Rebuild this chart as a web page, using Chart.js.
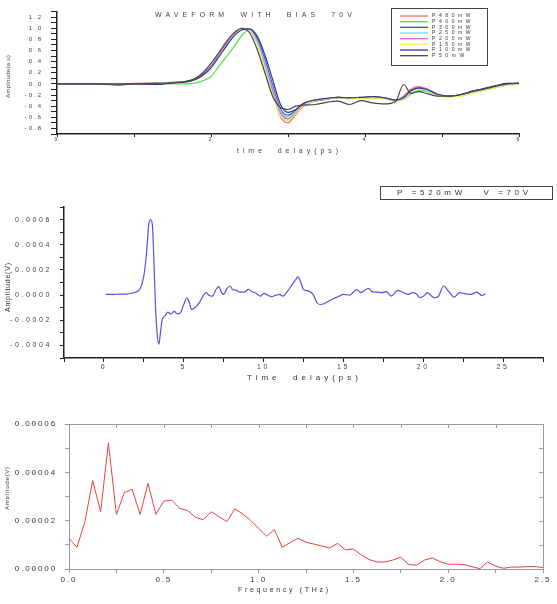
<!DOCTYPE html>
<html lang="en">
<head>
<meta charset="UTF-8" />
<title>Waveform with bias 70V</title>
<script src="https://cdn.jsdelivr.net/npm/chart.js"></script>
<style>
  * { box-sizing: border-box; margin: 0; padding: 0; }
  body { width: 557px; height: 604px; background: #fff; position: relative; overflow: hidden; }
  canvas { position: absolute; left: 0; }
  #waveChart { top: 0; }
  #pulseChart { top: 175px; }
  #specChart { top: 410px; }
</style>
</head>
<body>
  <canvas id="waveChart" width="557" height="160"></canvas>
  <canvas id="pulseChart" width="557" height="210"></canvas>
  <canvas id="specChart" width="557" height="194"></canvas>

<script>
const FONT = '"Liberation Sans", Arial, sans-serif';

// ---- top chart: normalised waveforms, one per pump power
const powers = ['P480mW', 'P400mW', 'P300mW', 'P250mW', 'P200mW', 'P150mW', 'P100mW', 'P50mW'];
const powerColors = ['#f26a6a', '#4ee04e', '#4646e2', '#5ee6ee', '#e45ee4', '#f0f05a', '#38389a', '#484848'];
const waveTime = [0, 0.5, 0.8, 1.0, 1.3, 1.5, 1.65, 1.8, 1.9, 2.0,
  2.1, 2.2, 2.3, 2.4, 2.5, 2.6, 2.7, 2.8, 2.9, 3.0,
  3.1, 3.2, 3.35, 3.5, 3.65, 3.8, 3.95, 4.1, 4.25, 4.4,
  4.5, 4.6, 4.7, 4.8, 4.95, 5.1, 5.25, 5.4, 5.55, 5.7,
  5.85, 6.0, 6.05];
const wave480 = [0, 0, 0, 0.01, 0.02, 0.03, 0.04, 0.08, 0.16, 0.30,
  0.50, 0.71, 0.89, 0.99, 0.96, 0.72, 0.30, -0.16, -0.58, -0.70,
  -0.55, -0.40, -0.31, -0.28, -0.24, -0.26, -0.25, -0.23, -0.25, -0.29,
  -0.22, -0.09, -0.05, -0.09, -0.19, -0.22, -0.19, -0.14, -0.10, -0.05,
  0.0, 0.01, -0.04];
const wave400 = [0, 0, 0, 0, 0, 0, 0, 0.02, 0.06, 0.13,
  0.31, 0.49, 0.67, 0.87, 0.97, 0.78, 0.38, -0.10, -0.50, -0.62,
  -0.52, -0.38, -0.31, -0.27, -0.24, -0.26, -0.25, -0.25, -0.26, -0.31,
  -0.28, -0.18, -0.12, -0.13, -0.20, -0.22, -0.20, -0.15, -0.11, -0.06,
  -0.02, 0.0, -0.04];
const wave300 = [0, 0, 0, 0, 0.01, 0.02, 0.03, 0.09, 0.18, 0.32,
  0.52, 0.72, 0.88, 0.98, 0.98, 0.82, 0.45, -0.02, -0.44, -0.56,
  -0.48, -0.36, -0.29, -0.27, -0.24, -0.25, -0.24, -0.24, -0.26, -0.29,
  -0.25, -0.13, -0.08, -0.10, -0.19, -0.22, -0.19, -0.13, -0.09, -0.04,
  0.0, 0.01, -0.03];
const wave250 = [0, 0, 0, 0, 0.01, 0.02, 0.03, 0.08, 0.16, 0.30,
  0.50, 0.70, 0.88, 0.98, 0.97, 0.77, 0.38, -0.08, -0.48, -0.59,
  -0.50, -0.37, -0.30, -0.27, -0.25, -0.26, -0.25, -0.24, -0.26, -0.30,
  -0.27, -0.16, -0.10, -0.12, -0.20, -0.22, -0.20, -0.14, -0.10, -0.05,
  -0.01, 0.0, -0.04];
const wave200 = [0, 0, 0, 0, 0.01, 0.02, 0.04, 0.09, 0.17, 0.31,
  0.51, 0.71, 0.89, 0.99, 0.96, 0.74, 0.33, -0.12, -0.52, -0.63,
  -0.52, -0.38, -0.30, -0.27, -0.24, -0.26, -0.25, -0.23, -0.25, -0.29,
  -0.24, -0.11, -0.06, -0.09, -0.19, -0.22, -0.19, -0.13, -0.09, -0.04,
  0.01, 0.01, -0.03];
const wave150 = [0, 0, 0, 0, 0.01, 0.02, 0.03, 0.08, 0.15, 0.29,
  0.49, 0.69, 0.87, 0.98, 0.96, 0.72, 0.29, -0.18, -0.56, -0.66,
  -0.53, -0.39, -0.30, -0.27, -0.25, -0.27, -0.26, -0.25, -0.27, -0.31,
  -0.27, -0.14, -0.09, -0.11, -0.21, -0.24, -0.22, -0.17, -0.12, -0.07,
  -0.02, -0.01, -0.05];
const wave100 = [0, 0, 0, 0, -0.01, 0.02, 0.03, 0.08, 0.16, 0.29,
  0.48, 0.68, 0.86, 0.97, 0.99, 0.86, 0.52, 0.08, -0.36, -0.51,
  -0.46, -0.35, -0.29, -0.26, -0.24, -0.25, -0.24, -0.23, -0.25, -0.29,
  -0.25, -0.12, -0.07, -0.10, -0.19, -0.22, -0.19, -0.13, -0.08, -0.03,
  0.01, 0.01, -0.04];
const wave50 = [0, 0, -0.02, 0, 0.01, 0.02, 0.04, 0.10, 0.21, 0.37,
  0.56, 0.76, 0.92, 1.0, 0.92, 0.62, 0.20, -0.22, -0.42, -0.46,
  -0.40, -0.38, -0.37, -0.33, -0.31, -0.37, -0.30, -0.34, -0.36, -0.31,
  -0.01, -0.17, -0.14, -0.17, -0.22, -0.22, -0.19, -0.13, -0.09, -0.04,
  0.0, 0.01, -0.04];
const waveSeries = [wave480, wave400, wave300, wave250, wave200, wave150, wave100, wave50];

// ---- middle chart: raw pulse, P=520mW V=70V (amplitude in units of 1e-4 V)
const pulseTime = [0.1, 0.5, 1.0, 1.5, 2.0, 2.3, 2.5, 2.67, 2.8, 2.92,
  3.04, 3.12, 3.23, 3.33, 3.44, 3.54, 3.65, 3.8, 4.0, 4.2,
  4.4, 4.6, 4.8, 5.0, 5.2, 5.35, 5.5, 5.8, 6.0, 6.2,
  6.4, 6.6, 6.8, 7.0, 7.2, 7.35, 7.5, 7.7, 7.9, 8.05,
  8.25, 8.5, 8.8, 9.05, 9.3, 9.55, 9.8, 10.0, 10.3, 10.5,
  10.8, 11.0, 11.2, 11.5, 11.8, 12.0, 12.15, 12.3, 12.5, 12.83,
  13.1, 13.35, 13.56, 13.77, 14.08, 14.4, 14.7, 15.0, 15.4, 15.65,
  15.85, 16.1, 16.3, 16.58, 16.79, 17.1, 17.42, 17.69, 17.98, 18.4,
  18.77, 19.08, 19.3, 19.56, 19.8, 20.02, 20.27, 20.48, 20.69, 20.96,
  21.27, 21.58, 21.94, 22.27, 22.6, 23.0, 23.35, 23.67, 23.9];
const pulseAmp = [0.06, 0.05, 0.08, 0.1, 0.24, 0.58, 1.52, 3.38, 5.52, 6.0,
  5.5, 3.1, -0.88, -3.0, -3.9, -3.0, -1.95, -1.68, -1.36, -1.5,
  -1.3, -1.5, -1.4, -0.75, -0.21, -0.61, -1.15, -0.88, -0.56, -0.08,
  0.19, -0.03, -0.08, 0.4, 0.67, 0.24, 0.05, 0.51, 0.72, 0.45,
  0.4, 0.24, 0.24, 0.45, 0.24, 0.13, -0.08, 0.13, -0.03, -0.13,
  0.0, 0.05, -0.08, 0.32, 0.85, 1.2, 1.44, 1.12, 0.45, 0.32,
  0.05, -0.61, -0.75, -0.69, -0.48, -0.27, -0.11, 0.05, 0.0, 0.27,
  0.43, 0.19, 0.37, 0.53, 0.27, 0.24, 0.19, 0.27, -0.08, 0.37,
  0.19, 0.05, 0.19, 0.11, -0.21, -0.08, 0.19, -0.03, -0.21, -0.08,
  0.72, 0.32, -0.16, 0.19, 0.11, 0.05, 0.24, -0.03, 0.11];
const PULSE_UNIT = 1e-4;

// ---- bottom chart: spectrum (amplitude in units of 1e-5 V)
const freq = [0, 0.042, 0.083, 0.125, 0.167, 0.208, 0.25, 0.292, 0.333, 0.375,
  0.417, 0.458, 0.5, 0.542, 0.583, 0.625, 0.667, 0.708, 0.75, 0.792,
  0.833, 0.875, 0.917, 0.958, 1.0, 1.042, 1.083, 1.125, 1.167, 1.208,
  1.25, 1.292, 1.333, 1.375, 1.417, 1.458, 1.5, 1.542, 1.583, 1.625,
  1.667, 1.708, 1.75, 1.792, 1.833, 1.875, 1.917, 1.958, 2.0, 2.042,
  2.083, 2.125, 2.167, 2.208, 2.25, 2.292, 2.333, 2.375, 2.417, 2.458,
  2.5];
const specAmp = [1.27, 0.90, 1.93, 3.66, 2.37, 5.22, 2.26, 3.16, 3.30, 2.26,
  3.55, 2.26, 2.81, 2.85, 2.51, 2.42, 2.14, 2.04, 2.37, 2.16,
  1.96, 2.49, 2.27, 2.01, 1.68, 1.36, 1.63, 0.90, 1.10, 1.27,
  1.11, 1.03, 0.95, 0.87, 1.06, 0.79, 0.83, 0.58, 0.39, 0.29,
  0.29, 0.37, 0.49, 0.18, 0.16, 0.37, 0.46, 0.30, 0.20, 0.20,
  0.18, 0.10, 0.01, 0.29, 0.12, 0.03, 0.08, 0.08, 0.10, 0.10,
  0.06];
const SPEC_UNIT = 1e-5;

// text stretched between x0 and x1 (these plots use spread-out lettering)
function spacedText(ctx, str, x0, x1, y, size, color) {
  ctx.save();
  ctx.font = size + 'px ' + FONT;
  ctx.fillStyle = color || '#333';
  ctx.textBaseline = 'middle';
  ctx.textAlign = 'left';
  ctx.letterSpacing = '0px';
  const w = ctx.measureText(str).width;
  const ls = str.length > 1 ? Math.max(0, (x1 - x0 - w) / (str.length - 1)) : 0;
  ctx.letterSpacing = ls + 'px';
  ctx.fillText(str, x0, y);
  ctx.restore();
}

const annot = {
  id: 'annot',
  beforeDraw(chart, args, opts) {
    chart.ctx.letterSpacing = opts.tickSpacing || '0px';
  },
  afterDraw(chart, args, opts) {
    const ctx = chart.ctx;
    const area = chart.chartArea;

    if (opts.frame) {
      ctx.save();
      ctx.strokeStyle = opts.frame;
      ctx.lineWidth = 1;
      ctx.beginPath();
      ctx.moveTo(area.left, area.top + 0.5);
      ctx.lineTo(area.right + 0.5, area.top + 0.5);
      ctx.lineTo(area.right + 0.5, area.bottom);
      ctx.stroke();
      // inward ticks on top and right, same positions as the main axes
      ctx.beginPath();
      chart.scales.x.ticks.forEach(t => {
        const px = Math.round(chart.scales.x.getPixelForValue(t.value)) + 0.5;
        ctx.moveTo(px, area.top);
        ctx.lineTo(px, area.top + 4);
      });
      chart.scales.y.ticks.forEach(t => {
        const py = Math.round(chart.scales.y.getPixelForValue(t.value)) + 0.5;
        ctx.moveTo(area.right, py);
        ctx.lineTo(area.right - 4, py);
      });
      ctx.stroke();
      ctx.restore();
    }

    if (opts.box) {
      const b = opts.box;
      ctx.save();
      ctx.strokeStyle = '#444';
      ctx.lineWidth = 1;
      ctx.strokeRect(b.x0 + 0.5, b.y0 + 0.5, b.x1 - b.x0, b.y1 - b.y0);
      ctx.restore();
    }

    if (opts.legend) {
      const L = opts.legend;
      chart.data.datasets.forEach((ds, i) => {
        const y = L.rowY + i * L.rowH;
        ctx.save();
        ctx.strokeStyle = ds.borderColor;
        ctx.lineWidth = 1.3;
        ctx.beginPath();
        ctx.moveTo(L.lineX0, y);
        ctx.lineTo(L.lineX1, y);
        ctx.stroke();
        ctx.font = L.size + 'px ' + FONT;
        ctx.fillStyle = '#333';
        ctx.textBaseline = 'middle';
        ctx.letterSpacing = L.spacing;
        ctx.fillText(ds.label, L.textX, y);
        ctx.restore();
      });
    }

    (opts.texts || []).forEach(t => {
      if (t.rotate) {
        ctx.save();
        ctx.translate(t.x, t.y1);
        ctx.rotate(-Math.PI / 2);
        spacedText(ctx, t.text, 0, t.y1 - t.y0, 0, t.size, t.color);
        ctx.restore();
      } else {
        spacedText(ctx, t.text, t.x0, t.x1, t.y, t.size, t.color);
      }
    });
  }
};

function evenLabel(v, step, digits) {
  const k = Math.round(v / step);
  return k % 2 === 0 ? (k * step).toFixed(digits) : '';
}

// ---------- top chart
new Chart(document.getElementById('waveChart'), {
  type: 'line',
  plugins: [annot],
  data: {
    datasets: powers.map((p, i) => ({
      label: p,
      data: waveTime.map((t, j) => ({ x: t, y: waveSeries[i][j] })),
      borderColor: powerColors[i],
      borderWidth: 1.2,
      pointRadius: 0,
      cubicInterpolationMode: 'monotone',
      order: powers.length - 1 - i
    }))
  },
  options: {
    responsive: false,
    animation: false,
    devicePixelRatio: 1,
    layout: { padding: { top: 7, right: 38, bottom: 0, left: 0 } },
    plugins: {
      legend: { display: false },
      tooltip: { enabled: false },
      annot: {
        tickSpacing: '2px',
        box: { x0: 391, y0: 8, x1: 487, y1: 65 },
        legend: { rowY: 16, rowH: 5.67, lineX0: 400, lineX1: 428, textX: 432, size: 5, spacing: '3.6px' },
        texts: [
          { text: 'WAVEFORM  WITH  BIAS  70V', x0: 155, x1: 352, y: 15, size: 7, color: '#444' },
          { text: 'time  delay(ps)', x0: 237, x1: 338, y: 151, size: 7, color: '#444' },
          { text: 'Amplitude(a.u)', rotate: true, x: 8, y0: 55, y1: 98, size: 6, color: '#444' }
        ]
      }
    },
    scales: {
      x: {
        type: 'linear', min: 0, max: 6,
        afterFit: s => { s.height = 26; },
        border: { color: '#222', width: 1.5 },
        grid: { drawOnChartArea: false, tickLength: 3, tickColor: '#222' },
        ticks: {
          stepSize: 1, autoSkip: false, maxRotation: 0, padding: 0,
          color: '#444', font: { size: 5, family: FONT },
          callback: v => evenLabel(v, 1, 0)
        }
      },
      y: {
        min: -0.9, max: 1.3,
        afterFit: s => { s.width = 57; },
        border: { color: '#222', width: 1.5 },
        grid: { drawOnChartArea: false, tickLength: 6, tickColor: '#222' },
        ticks: {
          stepSize: 0.1, autoSkip: false, padding: 8,
          color: '#444', font: { size: 6, family: FONT },
          callback: v => evenLabel(v, 0.1, 1)
        }
      }
    }
  }
});

// ---------- middle chart
new Chart(document.getElementById('pulseChart'), {
  type: 'line',
  plugins: [annot],
  data: {
    datasets: [{
      label: 'P=520mW V=70V',
      data: pulseTime.map((t, i) => ({ x: t, y: pulseAmp[i] * PULSE_UNIT })),
      borderColor: '#5454dc',
      borderWidth: 1.2,
      pointRadius: 0,
      cubicInterpolationMode: 'monotone'
    }]
  },
  options: {
    responsive: false,
    animation: false,
    devicePixelRatio: 1,
    layout: { padding: { top: 32, right: 14, bottom: 0, left: 0 } },
    plugins: {
      legend: { display: false },
      tooltip: { enabled: false },
      annot: {
        tickSpacing: '2.6px',
        box: { x0: 380, y0: 11, x1: 552, y1: 24 },
        texts: [
          { text: 'P =520mW   V =70V', x0: 397, x1: 528, y: 17.5, size: 8, color: '#333' },
          { text: 'Time  delay(ps)', x0: 247, x1: 358, y: 203, size: 8, color: '#333' },
          { text: 'Amplitude(V)', rotate: true, x: 8, y0: 88, y1: 137, size: 7, color: '#333' }
        ]
      }
    },
    scales: {
      x: {
        type: 'linear', min: -2.5, max: 27.5,
        afterFit: s => { s.height = 27; },
        border: { color: '#222', width: 1.5 },
        grid: { drawOnChartArea: false, tickLength: 4, tickColor: '#222' },
        ticks: {
          stepSize: 2.5, autoSkip: false, maxRotation: 0, padding: 1,
          color: '#444', font: { size: 7, family: FONT },
          callback: v => evenLabel(v, 2.5, 0)
        }
      },
      y: {
        min: -0.0005, max: 0.0007,
        afterFit: s => { s.width = 64; },
        border: { color: '#222', width: 1.5 },
        grid: { drawOnChartArea: false, tickLength: 4, tickColor: '#222' },
        ticks: {
          stepSize: 0.0001, autoSkip: false, padding: 8,
          color: '#444', font: { size: 7, family: FONT },
          callback: v => evenLabel(v, 0.0001, 4)
        }
      }
    }
  }
});

// ---------- bottom chart
new Chart(document.getElementById('specChart'), {
  type: 'line',
  plugins: [annot],
  data: {
    datasets: [{
      label: 'Spectrum',
      data: freq.map((f, i) => ({ x: f, y: specAmp[i] * SPEC_UNIT })),
      borderColor: '#e8423e',
      borderWidth: 1,
      pointRadius: 0,
      tension: 0
    }]
  },
  options: {
    responsive: false,
    animation: false,
    devicePixelRatio: 1,
    layout: { padding: { top: 14, right: 14, bottom: 0, left: 0 } },
    plugins: {
      legend: { display: false },
      tooltip: { enabled: false },
      annot: {
        tickSpacing: '1.9px',
        frame: '#9a9a9a',
        texts: [
          { text: 'Frequency (THz)', x0: 238, x1: 328, y: 180, size: 7, color: '#333' },
          { text: 'Amplitude(V)', rotate: true, x: 7, y0: 57, y1: 100, size: 6, color: '#333' }
        ]
      }
    },
    scales: {
      x: {
        type: 'linear', min: 0, max: 2.5,
        afterFit: s => { s.height = 35; },
        border: { color: '#9a9a9a', width: 1 },
        grid: { drawOnChartArea: false, tickLength: 4, tickColor: '#9a9a9a' },
        ticks: {
          stepSize: 0.25, autoSkip: false, maxRotation: 0, padding: 2,
          color: '#333', font: { size: 8, family: FONT },
          callback: v => evenLabel(v, 0.25, 1).replace(/^(\d)\.(\d)$/, '$1.$2')
        }
      },
      y: {
        min: 0, max: 0.00006,
        afterFit: s => { s.width = 69; },
        border: { color: '#9a9a9a', width: 1 },
        grid: { drawOnChartArea: false, tickLength: 4, tickColor: '#9a9a9a' },
        ticks: {
          stepSize: 0.00001, autoSkip: false, padding: 8,
          color: '#333', font: { size: 8, family: FONT },
          callback: v => evenLabel(v, 0.00001, 5)
        }
      }
    }
  }
});
</script>
</body>
</html>
